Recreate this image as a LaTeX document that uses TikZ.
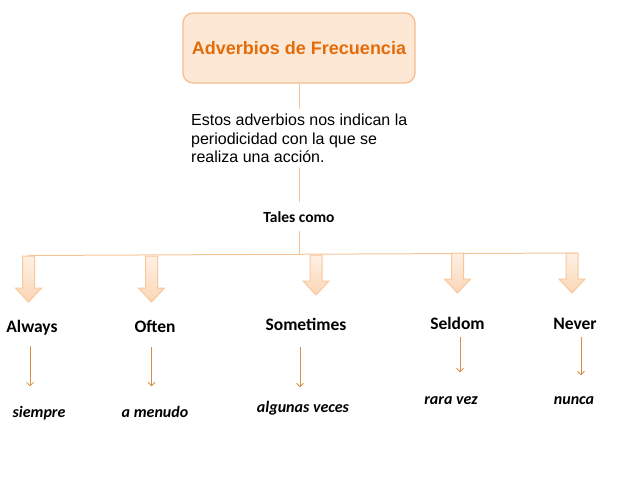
\documentclass[tikz,border=0pt]{standalone}
\usepackage{fontspec}
\setmainfont{Liberation Sans}
\newfontfamily\calibri{Carlito}
\usepackage{tikz}
\usetikzlibrary{calc,arrows.meta}
\definecolor{titlefill}{HTML}{FDE7D5}
\definecolor{titledraw}{HTML}{F5BE8E}
\definecolor{titletext}{HTML}{E36C0A}
\definecolor{linecol}{HTML}{F5C59A}
\definecolor{arrfill}{HTML}{FEF0E4}
\definecolor{arrfillb}{HTML}{FBD6B6}
\definecolor{arrdraw}{HTML}{F8C89C}
\definecolor{smallcol}{HTML}{D98E45}
\tikzset{
  pics/bigarrow/.style={code={\draw[draw=arrdraw,top color=arrfill,bottom color=arrfillb,line width=1pt] (-6,0) -- (6,0) -- (6,#1-14) -- (13,#1-14) -- (0,#1) -- (-13,#1-14) -- (-6,#1-14) -- cycle;}},
}

\begin{document}
\begin{tikzpicture}[x=1pt,y=-1pt,every node/.style={inner sep=0pt},
  line/.style={draw=linecol,line width=1pt},
  small/.style={draw=smallcol,line width=.8pt,-{Straight Barb[length=3.5pt,width=7pt]}},
  adv/.style={anchor=base,font=\calibri\fontsize{17.5}{20}\selectfont\bfseries},
  trans/.style={anchor=base,font=\calibri\fontsize{16}{18}\selectfont\bfseries\itshape}]
	\useasboundingbox (0,0) rectangle (638,479);
	%title box and the text under it
	\node[draw=titledraw,fill=titlefill,line width=1.3pt,rounded corners=10pt,minimum width=232pt,minimum height=70pt,text=titletext,font=\fontsize{18}{20}\selectfont\bfseries] (title) at (299,48) {Adverbios de Frecuencia};
	\node[anchor=north west,align=left,outer ysep=5pt,font=\fontsize{16}{18.7}\selectfont] (desc) at (191,109) {Estos adverbios nos indican la\\periodicidad con la que se\\realiza una acción.};
	\node[anchor=base,outer ysep=9pt,font=\calibri\fontsize{15.5}{18}\selectfont\bfseries] (tales) at (299,222) {Tales como};
	\coordinate (bar) at (299,254);
	\coordinate (barL) at (28.5,255.5);\coordinate (barR) at (577,253);
	%% trunk
	\draw[line] (title.south) -- (title.south |- desc.north);
	\draw[line] (title.south |- desc.south) -- (tales);
	\draw[line] (tales) -- (bar);
	\draw[line] (barL) -- (barR);
	%% big arrows
	\pic (arAlways) at (28.5,256) {bigarrow=46};
	\pic (arOften) at (151.5,256) {bigarrow=46};
	\pic (arSometimes) at (316,255) {bigarrow=40};
	\pic (arSeldom) at (457.5,253) {bigarrow=40};
	\pic (arNever) at (572,253) {bigarrow=40};
	%% adverbs
	\node[adv] (always) at (32,332) {Always};
	\node[adv] (often) at (155,332) {Often};
	\node[adv] (sometimes) at (306,330) {Sometimes};
	\node[adv] (seldom) at (457.5,329) {Seldom};
	\node[adv] (never) at (575,329) {Never};
	%% meanings
	\node[trans] (siempre) at (39,417) {siempre};
	\node[trans] (amenudo) at (155,417) {a menudo};
	\node[trans] (algunas) at (303,412) {algunas veces};
	\node[trans] (raravez) at (451,404) {rara vez};
	\node[trans] (nunca) at (574,404) {nunca};
	%% small arrows
	\draw[small] (always.south) ++(-2,11.5) -- ++(0,40);
	\draw[small] (often.south) ++(-3.5,15) -- ++(0,39);
	\draw[small] (sometimes.south) ++(-6,17) -- ++(0,40);
	\draw[small] (seldom.south) ++(2.5,8) -- ++(0,35);
	\draw[small] (never.south) ++(6,8) -- ++(0,38);
\end{tikzpicture}
\end{document}
